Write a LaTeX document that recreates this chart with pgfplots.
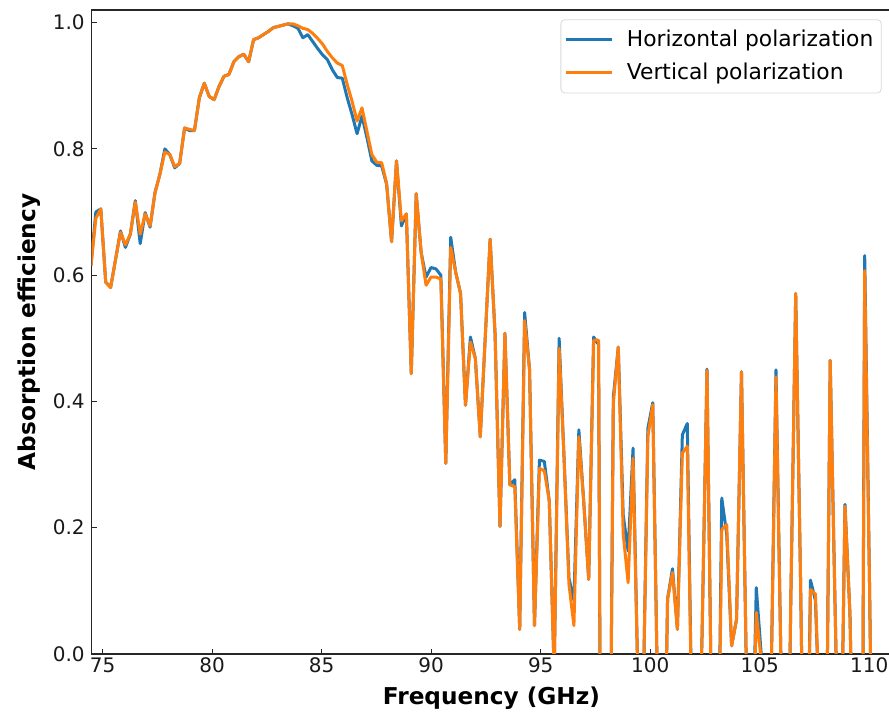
\documentclass[border=0pt]{standalone}
\usepackage{fontspec}
\setmainfont{DejaVu Sans}
\usepackage{pgfplots}
\pgfplotsset{compat=1.18}
\usepackage{pgfplotstable}
\definecolor{mplblue}{HTML}{1F77B4}
\definecolor{mplorange}{HTML}{FF7F0E}
\pgfplotstableread{
x h v
74.465 0.615 0.615
74.690 0.700 0.690
74.915 0.705 0.705
75.140 0.589 0.589
75.365 0.581 0.580
75.590 0.625 0.625
75.815 0.670 0.668
76.040 0.644 0.648
76.265 0.665 0.665
76.490 0.718 0.716
76.715 0.650 0.665
76.940 0.699 0.697
77.165 0.676 0.678
77.390 0.731 0.730
77.615 0.760 0.760
77.840 0.800 0.795
78.065 0.791 0.791
78.290 0.770 0.772
78.515 0.777 0.777
78.740 0.833 0.833
78.965 0.829 0.831
79.190 0.829 0.829
79.415 0.881 0.881
79.640 0.904 0.904
79.865 0.883 0.883
80.090 0.878 0.878
80.315 0.899 0.899
80.540 0.915 0.915
80.765 0.918 0.918
80.990 0.938 0.938
81.215 0.946 0.946
81.440 0.950 0.950
81.665 0.938 0.938
81.890 0.973 0.973
82.115 0.976 0.976
82.340 0.981 0.981
82.565 0.986 0.986
82.790 0.992 0.992
83.015 0.994 0.994
83.240 0.996 0.996
83.465 0.998 0.998
83.690 0.995 0.998
83.915 0.991 0.995
84.140 0.976 0.991
84.365 0.981 0.989
84.590 0.970 0.983
84.815 0.959 0.975
85.040 0.949 0.966
85.265 0.941 0.954
85.490 0.925 0.944
85.715 0.913 0.936
85.940 0.912 0.932
86.165 0.881 0.902
86.390 0.854 0.875
86.615 0.824 0.844
86.840 0.852 0.865
87.065 0.818 0.828
87.290 0.781 0.791
87.515 0.774 0.779
87.740 0.773 0.778
87.965 0.744 0.745
88.190 0.653 0.653
88.415 0.781 0.781
88.640 0.678 0.686
88.865 0.697 0.697
89.090 0.444 0.444
89.315 0.729 0.729
89.540 0.636 0.636
89.765 0.597 0.584
89.990 0.612 0.597
90.215 0.610 0.597
90.440 0.600 0.594
90.665 0.302 0.302
90.890 0.660 0.644
91.115 0.605 0.605
91.340 0.571 0.571
91.565 0.394 0.394
91.790 0.502 0.494
92.015 0.468 0.468
92.240 0.344 0.344
92.465 0.500 0.500
92.690 0.657 0.657
92.915 0.507 0.507
93.140 0.202 0.202
93.365 0.508 0.508
93.590 0.268 0.268
93.815 0.276 0.265
94.040 0.039 0.039
94.265 0.541 0.528
94.490 0.450 0.450
94.715 0.045 0.045
94.940 0.307 0.294
95.165 0.305 0.290
95.390 0.242 0.242
95.615 -0.030 -0.030
95.840 0.500 0.484
96.065 0.310 0.310
96.290 0.120 0.110
96.515 0.085 0.045
96.740 0.355 0.344
96.965 0.240 0.240
97.190 0.118 0.118
97.415 0.502 0.497
97.640 0.490 0.497
97.865 -1.300 -1.300
98.090 -0.550 -0.550
98.315 0.407 0.397
98.540 0.486 0.486
98.765 0.220 0.190
98.990 0.163 0.113
99.215 0.326 0.310
99.440 -0.050 -0.050
99.665 -0.100 -0.100
99.890 0.357 0.344
100.115 0.398 0.395
100.340 -0.080 -0.080
100.565 -0.400 -0.400
100.790 0.087 0.087
101.015 0.135 0.129
101.240 0.039 0.039
101.465 0.347 0.318
101.690 0.365 0.329
101.915 -0.140 -0.140
102.140 -0.300 -0.300
102.365 0.030 0.030
102.590 0.451 0.449
102.815 -0.140 -0.140
103.040 -0.400 -0.400
103.265 0.247 0.197
103.490 0.190 0.205
103.715 0.013 0.013
103.940 0.055 0.055
104.165 0.447 0.447
104.390 -0.030 -0.030
104.615 -0.250 -0.250
104.840 0.105 0.066
105.065 0.000 -0.010
105.290 -0.300 -0.300
105.515 -0.050 -0.050
105.740 0.450 0.439
105.965 -0.010 -0.010
106.190 -0.500 -0.500
106.415 0.080 0.080
106.640 0.571 0.571
106.865 0.110 0.110
107.090 -0.440 -0.440
107.315 0.117 0.102
107.540 0.085 0.095
107.765 -0.135 -0.135
107.990 -0.370 -0.370
108.215 0.465 0.465
108.440 0.070 0.070
108.665 -0.300 -0.300
108.890 0.237 0.234
109.115 0.065 0.065
109.340 -0.300 -0.300
109.565 -1.200 -1.200
109.790 0.631 0.607
110.015 0.100 0.100
110.240 -0.500 -0.500
110.465 -0.300 -0.300
}\data

\begin{document}
\begin{tikzpicture}
\path[use as bounding box] (-45.85pt,-29.5pt) rectangle (398.65pt,327pt);
\begin{axis}[
  at={(0pt,0pt)}, anchor=south west,
  scale only axis, width=399.75pt, height=322pt,
  xmin=74.5, xmax=111, ymin=0, ymax=1.02,
  xtick={75,80,85,90,95,100,105,110},
  ytick={0,0.2,0.4,0.6,0.8,1.0},
  yticklabel style={/pgf/number format/fixed, /pgf/number format/fixed zerofill, /pgf/number format/precision=1},
  /pgf/number format/assume math mode=true,
  tick label style={font=\fontsize{10}{12}\selectfont, text=black!90},
  xticklabel style={yshift=1.7pt},
  tick align=inside, tick pos=left,
  major tick length=2.5pt,
  tick style={black!85, line width=0.6pt},
  axis line style={black!85, line width=0.7pt},
  xlabel={Frequency (GHz)},
  ylabel={Absorption efficiency},
  xlabel style={font=\fontsize{11.6}{14}\selectfont\bfseries, at={(axis description cs:0.5,-0.0792)}, anchor=base},
  ylabel style={font=\fontsize{11.6}{14}\selectfont\bfseries, at={(axis description cs:-0.0702,0.5)}, anchor=base},
  legend style={at={(0.9881,0.9856)}, anchor=north east, draw=black!15, rounded corners=2pt, fill=white,
    font=\fontsize{10.9}{13}\selectfont, inner xsep=2pt, inner ysep=3.2pt, row sep=2.7pt, column sep=4.5pt,
    nodes={inner sep=2pt}},
  legend cell align=left,
  legend image code/.code={\draw[#1] (0pt,0pt) -- (23pt,0pt);},
]
\addplot[mplblue, line width=1.5pt, line join=round] table[x=x,y=h]{\data};
\addlegendentry{Horizontal polarization}
\addplot[mplorange, line width=1.5pt, line join=round] table[x=x,y=v]{\data};
\addlegendentry{Vertical polarization}
\end{axis}
\end{tikzpicture}
\end{document}
